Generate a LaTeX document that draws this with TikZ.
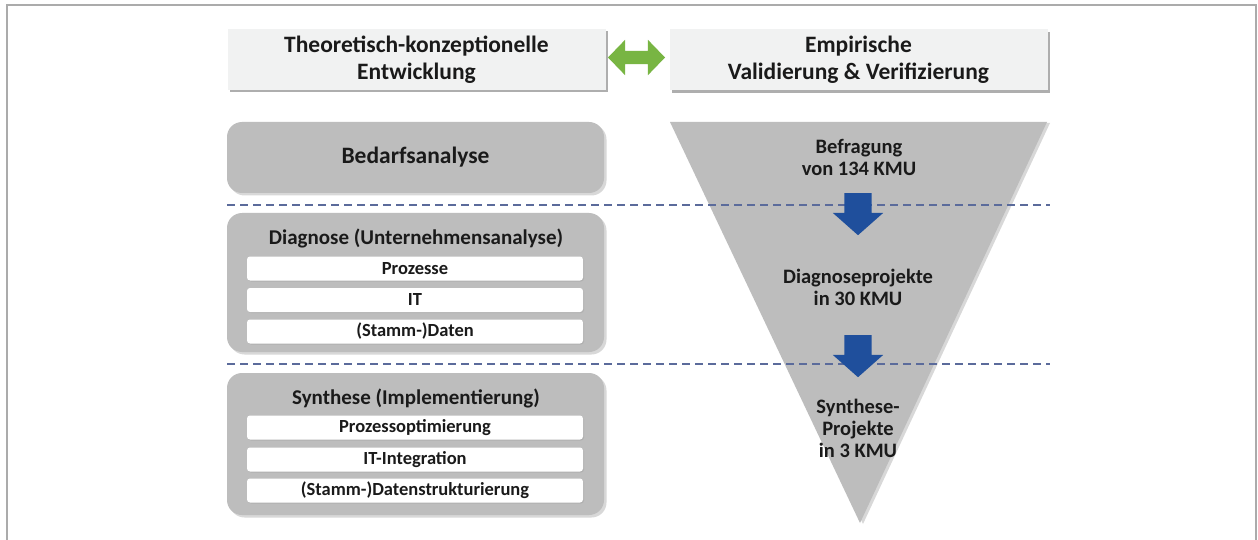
\documentclass[tikz,border=0pt]{standalone}
\usepackage{fontspec}
\setmainfont{Carlito}
\usetikzlibrary{shapes.arrows,shadows}

\definecolor{frameGray}{HTML}{ABABAB}
\definecolor{headFill}{HTML}{F1F2F2}
\definecolor{boxGray}{HTML}{BDBDBD}
\definecolor{arrowGreen}{HTML}{78B543}
\definecolor{arrowBlue}{HTML}{1F4F9C}
\definecolor{dashBlue}{HTML}{5B6B9B}
\definecolor{ink}{HTML}{1A1A1A}

\tikzset{
  x=1pt, y=-1pt,
  every node/.style={text=ink, font=\bfseries},
  headbox/.style={fill=headFill, minimum width=378pt, minimum height=61pt,
    align=center, font=\fontsize{23.5}{27}\selectfont\bfseries,
    drop shadow={shadow xshift=2.5pt, shadow yshift=-2.5pt, opacity=0.45, fill=black!70}},
  phasebox/.style={fill=boxGray, rounded corners=15pt, minimum width=377pt,
    drop shadow={shadow xshift=2.5pt, shadow yshift=-2.5pt, opacity=0.25, fill=black!60}},
  phasetitle/.style={font=\fontsize{21}{25}\selectfont\bfseries},
  itembar/.style={fill=white, rounded corners=3pt, minimum width=336pt, minimum height=24pt,
    inner sep=0pt, font=\fontsize{18.5}{22}\selectfont\bfseries,
    drop shadow={shadow xshift=1pt, shadow yshift=-1pt, opacity=0.15, fill=black!60}},
  funneltext/.style={align=center, font=\fontsize{20.5}{22}\selectfont\bfseries},
  levelline/.style={draw=dashBlue, line width=1.4pt, dash pattern=on 8pt off 5pt},
  stepdown/.style={single arrow, fill=arrowBlue, rotate=-90, anchor=tail, inner sep=0pt,
    minimum height=42pt, minimum width=0pt, single arrow head extend=11.5pt,
    single arrow tip angle=97, text height=27pt},
}

\begin{document}
\begin{tikzpicture}
\useasboundingbox (0,0) rectangle (1258,540);
\fill[white] (0,0) rectangle (1258,540);

% open frame around the figure
\draw[frameGray, line width=2pt] (7,540) -- (7,5) -- (1256,5) -- (1256,540);

% column headers
\node[headbox] (theory) at (416.5,59.5) {Theoretisch-konzeptionelle\\Entwicklung};
\node[headbox] (empiric) at (858.5,60) {Empirische\\Validierung \& Verifizierung};
\node[double arrow, fill=arrowGreen, inner sep=0pt, text height=13pt,
  minimum height=57pt, double arrow head extend=11pt, double arrow tip angle=92]
  (link) at (636.5,57.5) {};

% funnel of empirical studies
\fill[boxGray, drop shadow={shadow xshift=3pt, shadow yshift=-1pt, opacity=0.25, fill=black!60}]
  (670,122) -- (1047,122) -- (860,523) -- cycle;

% level separators
\draw[levelline] (227,205) -- (1050,205);
\draw[levelline] (227,364) -- (1050,364);

% phase boxes
\node[phasebox, minimum height=71pt, font=\fontsize{23.5}{27}\selectfont\bfseries]
  (need) at (415.5,157.5) {Bedarfsanalyse};

\node[phasebox, minimum height=139pt] (diag) at (415.5,282.5) {};
\node[phasetitle] (diagT) at (416,238) {Diagnose (Unternehmensanalyse)};
\node[itembar] (d1) at (415,268.5) {Prozesse};
\node[itembar] (d2) at (415,300) {IT};
\node[itembar] (d3) at (415,331.5) {(Stamm-)Daten};

\node[phasebox, minimum height=142pt] (synth) at (415.5,444) {};
\node[phasetitle] (synthT) at (416,398) {Synthese (Implementierung)};
\node[itembar] (s1) at (415,427.5) {Prozessoptimierung};
\node[itembar] (s2) at (415,459.5) {IT-Integration};
\node[itembar] (s3) at (415,490.5) {(Stamm-)Datenstrukturierung};

% funnel labels and transitions
\node[funneltext] (survey) at (859,157) {Befragung\\von 134 KMU};
\node[stepdown] (step1) at (858,193) {};
\node[funneltext] (diagP) at (858,287) {Diagnoseprojekte\\in 30 KMU};
\node[stepdown] (step2) at (858,335) {};
\node[funneltext] (synthP) at (858,428) {Synthese-\\Projekte\\in 3 KMU};
\end{tikzpicture}
\end{document}
